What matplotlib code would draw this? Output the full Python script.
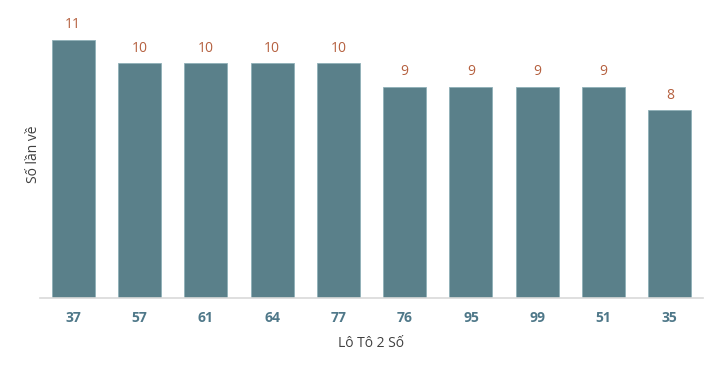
import matplotlib.pyplot as plt

numbers = ["37", "57", "61", "64", "77", "76", "95", "99", "51", "35"]
counts = [11, 10, 10, 10, 10, 9, 9, 9, 9, 8]

bar_color = "#5a808a"
label_color = "#b5603f"
tick_color = "#4f7889"

plt.rcParams["font.family"] = ["Open Sans", "DejaVu Sans"]

fig = plt.figure(figsize=(7.17, 3.70), dpi=100)
ax = fig.add_axes([40 / 717, 72 / 370, 663 / 717, 288 / 370])

x = range(len(numbers))
bars = ax.bar(x, counts, width=0.65, color=bar_color, edgecolor="#8fb0b8", linewidth=0.6)

for xi, c in zip(x, counts):
    ax.text(xi, c + 0.3, str(c), ha="center", va="bottom", color=label_color, fontsize=10)

ax.set_xlim(-0.5, len(numbers) - 0.5)
ax.set_ylim(0, 288 / 23.5)
ax.set_xticks(list(x))
ax.set_xticklabels(numbers, fontsize=10, fontweight="bold", color=tick_color)
ax.tick_params(axis="x", length=0, pad=9)
ax.set_yticks([])

for side in ["top", "right", "left"]:
    ax.spines[side].set_visible(False)
ax.spines["bottom"].set_color("#d9d9d9")
ax.spines["bottom"].set_linewidth(1.2)

ax.set_xlabel("Lô Tô 2 Số", fontsize=10, color="#404040", labelpad=8)
ax.set_ylabel("Số lần về", fontsize=10, color="#404040", labelpad=-1)

fig.savefig("out.png", dpi=100)
